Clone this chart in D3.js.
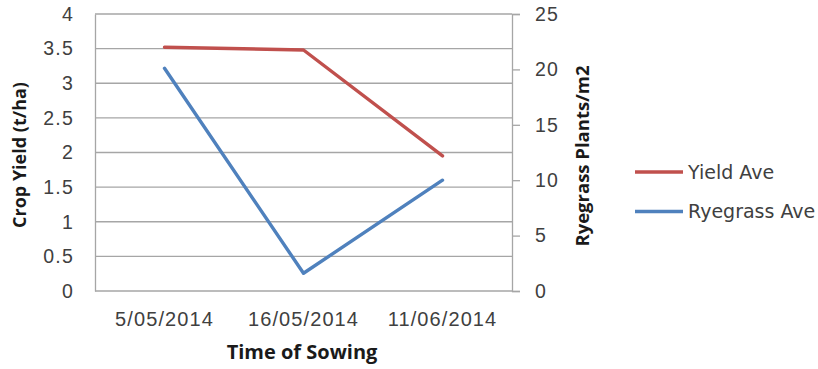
<!DOCTYPE html>
<html>
<head>
<meta charset="utf-8">
<script src="https://cdn.jsdelivr.net/npm/d3@7"></script>
<style>
  html, body { margin: 0; padding: 0; background: #fff; }
  svg { display: block; font-family: "DejaVu Sans", "Open Sans", sans-serif; }
  .title { font-family: "Open Sans", "DejaVu Sans", sans-serif; }
</style>
</head>
<body>
<svg id="chart" width="818" height="369"></svg>
<script>
// Sowing dates and series averages
const sowingDates = ["5/05/2014", "16/05/2014", "11/06/2014"];
const yieldAve = [3.52, 3.48, 1.95];       // t/ha
const ryegrassAve = [20.1, 1.6, 10.0];     // plants/m2
const yieldTicks = [0, 0.5, 1, 1.5, 2, 2.5, 3, 3.5, 4];
const ryegrassTicks = [0, 5, 10, 15, 20, 25];

const svg = d3.select("#chart");
const plotLeft = 95, plotRight = 512, plotTop = 14, plotBottom = 291;

const x = d3.scaleBand().domain(sowingDates).range([plotLeft, plotRight]);
const yL = d3.scaleLinear().domain([0, 4]).range([plotBottom, plotTop]);
const yR = d3.scaleLinear().domain([0, 25]).range([plotBottom, plotTop]);

const grid = "#a6a6a6";
const labelColor = "#404040";
const tickFont = 19.5;

// horizontal gridlines
svg.append("g").selectAll("line").data(yieldTicks).join("line")
  .attr("x1", plotLeft).attr("x2", plotRight)
  .attr("y1", d => yL(d)).attr("y2", d => yL(d))
  .attr("stroke", grid).attr("stroke-width", 1.3);

// left axis
const axL = svg.append("g").attr("transform", `translate(${plotLeft},0)`)
  .call(d3.axisLeft(yL).tickValues(yieldTicks).tickSize(0).tickPadding(21).tickFormat(d3.format("")));
axL.select(".domain").attr("stroke", grid).attr("stroke-width", 1.3);
axL.selectAll("text").attr("font-size", tickFont).attr("letter-spacing", 1.2).attr("fill", labelColor);

// right axis
const axR = svg.append("g").attr("transform", `translate(${plotRight},0)`)
  .call(d3.axisRight(yR).tickValues(ryegrassTicks).tickSize(8).tickPadding(15));
axR.select(".domain").attr("stroke", grid).attr("stroke-width", 1.3);
axR.selectAll("line").attr("stroke", grid).attr("stroke-width", 1.3);
axR.selectAll("text").attr("font-size", tickFont).attr("letter-spacing", 1.2).attr("fill", labelColor);

// bottom axis labels
const axB = svg.append("g").attr("transform", `translate(0,${plotBottom})`)
  .call(d3.axisBottom(x).tickSize(0).tickPadding(21));
axB.select(".domain").remove();
axB.selectAll("text").attr("font-size", 20).attr("letter-spacing", 1.1).attr("fill", labelColor);

// axis titles
const titleStyle = (sel, size) => sel.attr("class", "title").attr("text-anchor", "middle")
  .attr("font-size", size).attr("font-weight", "bold").attr("fill", "#1a1a1a");
svg.append("text").attr("x", 302).attr("y", 359).call(titleStyle, 20)
  .text("Time of Sowing");
svg.append("text").attr("transform", "translate(26,155) rotate(-90)").call(titleStyle, 18)
  .text("Crop Yield (t/ha)");
svg.append("text").attr("transform", "translate(589,156) rotate(-90)").call(titleStyle, 18.5)
  .text("Ryegrass Plants/m2");

const cx = d => x(d) + x.bandwidth() / 2;

// series lines
const series = [
  { name: "Yield Ave", values: yieldAve, scale: yL, color: "#c0504d" },
  { name: "Ryegrass Ave", values: ryegrassAve, scale: yR, color: "#4f81bd" }
];
series.forEach(s => {
  const line = d3.line().x((d, i) => cx(sowingDates[i])).y(d => s.scale(d));
  svg.append("path").datum(s.values).attr("d", line)
    .attr("fill", "none").attr("stroke", s.color).attr("stroke-width", 3.4)
    .attr("stroke-linejoin", "round").attr("stroke-linecap", "round");
});

// legend
const legend = svg.append("g").attr("transform", "translate(635,172)");
series.forEach((s, i) => {
  const g = legend.append("g").attr("transform", `translate(0,${i * 39.5})`);
  g.append("line").attr("x1", 0).attr("x2", 48).attr("y1", 0).attr("y2", 0)
    .attr("stroke", s.color).attr("stroke-width", 3.4);
  g.append("text").attr("x", 53).attr("y", 6.5).attr("font-size", 19).attr("fill", labelColor)
    .text(s.name);
});
</script>
</body>
</html>
